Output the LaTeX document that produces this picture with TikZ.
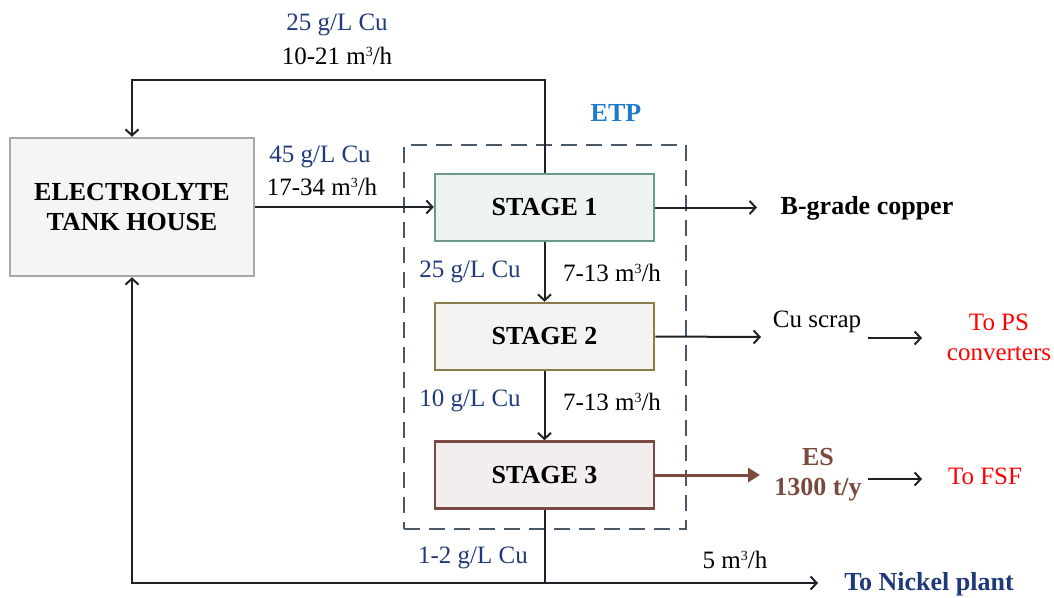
\documentclass[tikz,border=0pt]{standalone}
\usepackage{fontspec}
\setmainfont{Liberation Serif}
\usetikzlibrary{arrows.meta}
\definecolor{navy}{HTML}{1F3A7A}
\definecolor{etpblue}{HTML}{1F7AC8}
\definecolor{slate}{HTML}{4A5968}
\definecolor{esbrown}{HTML}{7B4A3C}
\definecolor{darkline}{HTML}{1E2228}
\definecolor{sonedraw}{HTML}{6A9A8A}
\definecolor{sonefill}{HTML}{EEF3F1}
\definecolor{stwodraw}{HTML}{8B7A4A}
\definecolor{stwofill}{HTML}{F3F3F1}
\definecolor{sthreedraw}{HTML}{7A4A40}
\definecolor{sthreefill}{HTML}{F3EEEE}
\definecolor{tankdraw}{HTML}{A8A8A8}
\definecolor{tankfill}{HTML}{F5F5F5}
\definecolor{outred}{HTML}{FF0000}
\newcommand{\cubed}{\raisebox{8pt}{\fontsize{14}{14}\selectfont 3}}
\tikzset{
  lab/.style={font=\fontsize{25}{30}\selectfont, inner sep=0pt, align=center},
  blab/.style={lab, text=navy},
  bold/.style={font=\fontsize{26}{30}\selectfont\bfseries, inner sep=0pt, align=center},
  stagebox/.style={draw, line width=2.5pt, minimum width=219pt, minimum height=67pt, font=\fontsize{26}{30}\selectfont\bfseries},
  arr/.style={line width=2pt, darkline, -{Straight Barb[length=6pt,width=13pt,line width=2pt]}},
  ln/.style={line width=2pt, darkline},
  brarr/.style={line width=3pt, esbrown, -{Triangle[length=12pt,width=14pt]}},
}
\begin{document}
\begin{tikzpicture}[x=1pt,y=-1pt]
\useasboundingbox (0,0) rectangle (1054,597);
% boxes
\node[draw=tankdraw, fill=tankfill, line width=2.5pt, minimum width=244pt, minimum height=138pt, font=\fontsize{26}{30}\selectfont\bfseries, align=center] (tank) at (132,207) {ELECTROLYTE\\TANK HOUSE};
\node[draw=slate, line width=2.5pt, dash pattern=on 16pt off 9pt, minimum width=282pt, minimum height=384pt] (etp) at (545,337) {};
\node[bold, text=etpblue] (etplab) at (616,113) {ETP};
\node[stagebox, draw=sonedraw, fill=sonefill] (s1) at (544.5,207.5) {STAGE 1};
\node[stagebox, draw=stwodraw, fill=stwofill] (s2) at (544.5,336.5) {STAGE 2};
\node[stagebox, draw=sthreedraw, fill=sthreefill] (s3) at (544.5,475) {STAGE 3};
% labels
\node[blab] (l1a) at (337,25) {25 g/L Cu};
\node[lab] (l1b) at (337,56) {10-21 m\cubed/h};
\node[blab] (l2a) at (320,157) {45 g/L Cu};
\node[lab] (l2b) at (322,187) {17-34 m\cubed/h};
\node[blab] (l3a) at (470,272) {25 g/L Cu};
\node[lab] (l3b) at (612,273) {7-13 m\cubed/h};
\node[blab] (l4a) at (470,401) {10 g/L Cu};
\node[lab] (l4b) at (612,402) {7-13 m\cubed/h};
\node[blab] (l5a) at (473,558) {1-2 g/L Cu};
\node[lab] (l5b) at (735,560) {5 m\cubed/h};
% outputs
\node[bold] (bg) at (867,208) {B-grade copper};
\node[lab] (scrap) at (817,322) {Cu scrap};
\node[lab, text=outred] (ps) at (999,337) {To PS\\converters};
\node[bold, text=esbrown] (es) at (818,475) {ES\\1300 t/y};
\node[lab, text=outred] (fsf) at (985,476) {To FSF};
\node[bold, text=navy] (nick) at (929,584) {To Nickel plant};
% coordinates
\coordinate (bgend) at (757,207.5);
\coordinate (scrapend) at (761,337);
\coordinate (psstart) at (868,338);
\coordinate (psend) at (922,338);
\coordinate (esend) at (760,475);
\coordinate (fsfstart) at (868,479);
\coordinate (fsfend) at (922,479);
\coordinate (junc) at (544.5,583);
\coordinate (nickend) at (818,583);
% connectors
\draw[arr] (s1.north) -- (s1.north |- 0,80) -| (tank.north);
\draw[arr] (tank.east) -- (tank.east -| s1.west);
\draw[arr] (s1.south) -- (s2.north);
\draw[arr] (s2.south) -- (s3.north);
\draw[arr] (s1.east) -- (bgend);
\draw[arr] (s2.east) -- (scrapend);
\draw[arr] (psstart) -- (psend);
\draw[brarr] (s3.east) -- (esend);
\draw[arr] (fsfstart) -- (fsfend);
\draw[ln] (s3.south) -- (junc);
\draw[arr] (junc) -| (tank.south);
\draw[arr] (junc) -- (nickend);
\end{tikzpicture}
\end{document}
